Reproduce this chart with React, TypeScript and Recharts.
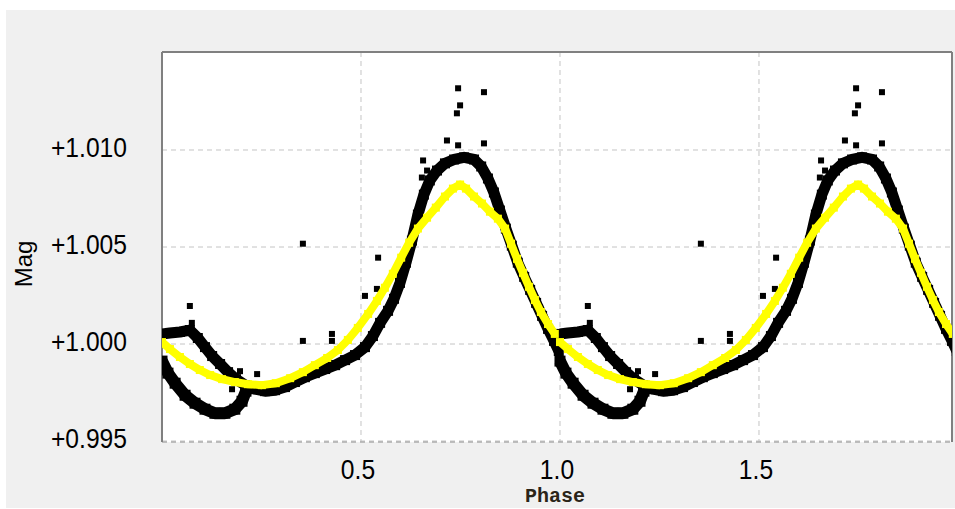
import { CartesianGrid, ReferenceLine, Scatter, ScatterChart, XAxis, YAxis } from "recharts"

type Pt = [number, number]

// phase-folded light curve, one cycle; the chart repeats it for phase 1..2
const mainBranch: Pt[] = [
  [0.0, 1.00052], [0.02, 1.00057], [0.045, 1.00062], [0.07, 1.00072], [0.09, 1.00031],
  [0.108, 0.99984], [0.126, 0.99938], [0.146, 0.99897], [0.166, 0.99855], [0.186, 0.99819],
  [0.209, 0.99788], [0.234, 0.99767], [0.259, 0.99757], [0.284, 0.99762], [0.309, 0.99778],
  [0.334, 0.99804], [0.359, 0.99829], [0.384, 0.9985], [0.41, 0.99871], [0.435, 0.99891],
  [0.46, 0.99917], [0.485, 0.99943], [0.51, 0.99984], [0.53, 1.00041], [0.548, 1.00109],
  [0.568, 1.00171], [0.583, 1.00233], [0.598, 1.00315], [0.613, 1.00419], [0.628, 1.00533],
  [0.643, 1.00667], [0.658, 1.0077], [0.673, 1.00843], [0.691, 1.00894], [0.711, 1.00931],
  [0.734, 1.00951], [0.759, 1.00962], [0.784, 1.00951], [0.802, 1.00915], [0.819, 1.00853],
  [0.834, 1.00781], [0.849, 1.00688], [0.864, 1.00595], [0.879, 1.00507], [0.894, 1.00419],
  [0.91, 1.00346], [0.925, 1.00279], [0.94, 1.00212], [0.955, 1.00145], [0.97, 1.00078],
  [0.985, 1.00016], [0.997, 0.99964],
]

const lowerBranch: Pt[] = [
  [0.0, 0.99912], [0.015, 0.9985], [0.033, 0.99798], [0.058, 0.99736], [0.083, 0.99695],
  [0.108, 0.99664], [0.133, 0.99643], [0.158, 0.99643], [0.183, 0.99664], [0.201, 0.99705],
  [0.211, 0.99757], [0.218, 0.9978],
]

const outliers: Pt[] = [
  [0.07, 1.00196], [0.075, 1.00109], [0.354, 1.00517], [0.354, 1.00016], [0.427, 1.00052],
  [0.427, 1.00016], [0.543, 1.00445], [0.51, 1.00248], [0.54, 1.00284], [0.239, 0.99845],
  [0.196, 0.9986], [0.176, 0.99767], [0.744, 1.01318], [0.809, 1.01298], [0.749, 1.0123],
  [0.741, 1.01189], [0.716, 1.01049], [0.809, 1.01034], [0.744, 1.01024], [0.656, 1.00946],
  [0.653, 1.00858], [0.666, 1.00894], [0.95, 1.00188],
]

const fitCurve: Pt[] = [
  [0.0, 1.0001], [0.02, 0.99974], [0.045, 0.99933], [0.07, 0.99897], [0.095, 0.99866],
  [0.121, 0.9984], [0.151, 0.99819], [0.183, 0.99804], [0.216, 0.99793], [0.251, 0.99788],
  [0.286, 0.99798], [0.322, 0.99824], [0.354, 0.99855], [0.384, 0.99891], [0.415, 0.99928],
  [0.442, 0.99969], [0.467, 1.00021], [0.492, 1.00083], [0.518, 1.00155], [0.54, 1.00222],
  [0.56, 1.0029], [0.58, 1.00362], [0.601, 1.00445], [0.621, 1.00522], [0.643, 1.00595],
  [0.666, 1.00651], [0.688, 1.00703], [0.711, 1.0076], [0.731, 1.00801], [0.749, 1.00822],
  [0.764, 1.00801], [0.784, 1.0076], [0.804, 1.00724], [0.824, 1.00682], [0.844, 1.00646],
  [0.862, 1.00595], [0.877, 1.00517], [0.892, 1.00439], [0.907, 1.00367], [0.922, 1.00295],
  [0.937, 1.00227], [0.952, 1.00165], [0.97, 1.00103], [0.987, 1.00052],
]

const cycles = [0, 1]
const phaseTicks = [0.5, 1.0, 1.5]
const magTicks = [0.995, 1.0, 1.005, 1.01]

const toRows = (pts: Pt[], cycle: number) => pts.map(([p, m]) => ({ phase: p + cycle, mag: m }))

const square = (size: number, fill: string) => (props: any) =>
  <rect x={props.cx - size / 2} y={props.cy - size / 2} width={size} height={size} fill={fill} />

const sansFont = "'Liberation Sans', Arial, sans-serif"

// narrow-ish tick text, like the old windows control font
const YTick = ({ x, y, payload }: any) => (
  <text
    transform={`translate(${x},${y + 7}) scale(0.88,1)`}
    textAnchor="end"
    fontFamily={sansFont}
    fontSize={28}
    fill="#000"
  >
    {"+" + Number(payload.value).toFixed(3)}
  </text>
)

const XTick = ({ x, y, payload }: any) => (
  <text
    transform={`translate(${x - 3},${y + 19}) scale(0.88,1)`}
    textAnchor="middle"
    fontFamily={sansFont}
    fontSize={28}
    fill="#000"
  >
    {Number(payload.value).toFixed(1)}
  </text>
)

export default function App() {
  return (
    <div style={{ position: "absolute", left: 0, top: 0, width: 955, height: 509, background: "#fff" }}>
      <div style={{ position: "absolute", left: 6, top: 10, width: 949, height: 498, background: "#f0f0f0" }} />
      <div style={{ position: "absolute", left: 0, top: 0 }}>
        <ScatterChart width={955} height={509} margin={{ top: 52, right: 3, bottom: 0, left: 0 }}>
          <CartesianGrid fill="#ffffff" fillOpacity={1} stroke="#c4c4c4" strokeDasharray="5 4" />
          <XAxis
            type="number"
            dataKey="phase"
            domain={[0, 1.985]}
            ticks={phaseTicks}
            allowDataOverflow
            height={67}
            tickSize={0}
            tickMargin={18}
            tickLine={false}
            axisLine={{ stroke: "#a0a0a0", strokeDasharray: "5 4" }}
            tick={XTick}
            label={{
              content: ({ viewBox }: any) => (
                <text
                  x={viewBox.x + viewBox.width / 2 - 2}
                  y={viewBox.y + viewBox.height - 7}
                  textAnchor="middle"
                  fontFamily="'Liberation Mono', 'DejaVu Sans Mono', monospace"
                  fontWeight="bold"
                  fontSize={20}
                  fill="#2a2418"
                >
                  Phase
                </text>
              ),
            }}
          />
          <YAxis
            type="number"
            dataKey="mag"
            domain={[0.99495, 1.01505]}
            ticks={magTicks}
            allowDataOverflow
            width={162}
            tickSize={0}
            tickMargin={35}
            tickLine={false}
            axisLine={{ stroke: "#808080", strokeWidth: 2 }}
            tick={YTick}
            label={{
              content: () => (
                <text
                  x={32}
                  y={264}
                  transform="rotate(-90 32 264)"
                  textAnchor="middle"
                  fontFamily={sansFont}
                  fontSize={24}
                  fill="#000"
                >
                  Mag
                </text>
              ),
            }}
          />
          <ReferenceLine y={1.01505} stroke="#808080" strokeWidth={2} ifOverflow="visible" />
          <ReferenceLine x={1.985} stroke="#808080" strokeWidth={2} ifOverflow="visible" />
          {cycles.map((c) => (
            <Scatter
              key={"low" + c}
              data={toRows(lowerBranch, c)}
              fill="#000"
              line={{ stroke: "#000", strokeWidth: 12, strokeLinejoin: "round" }}
              shape={square(11, "#000")}
              isAnimationActive={false}
            />
          ))}
          {cycles.map((c) => (
            <Scatter
              key={"main" + c}
              data={toRows(mainBranch, c)}
              fill="#000"
              line={{ stroke: "#000", strokeWidth: 11, strokeLinejoin: "round" }}
              shape={square(10, "#000")}
              isAnimationActive={false}
            />
          ))}
          {cycles.map((c) => (
            <Scatter
              key={"out" + c}
              data={toRows(outliers, c)}
              fill="#000"
              shape={square(6, "#000")}
              isAnimationActive={false}
            />
          ))}
          {cycles.map((c) => (
            <Scatter
              key={"fit" + c}
              data={toRows(fitCurve, c)}
              fill="#ffff00"
              line={{ stroke: "#ffff00", strokeWidth: 8, strokeLinejoin: "round" }}
              shape={square(8, "#ffff00")}
              isAnimationActive={false}
            />
          ))}
        </ScatterChart>
      </div>
    </div>
  )
}
